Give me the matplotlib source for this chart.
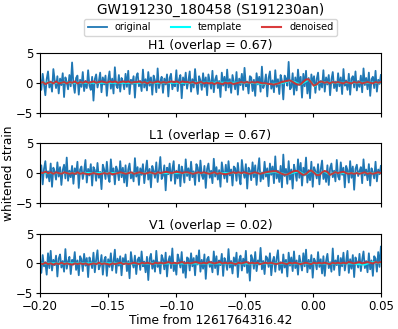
import numpy as np
import matplotlib
matplotlib.use("Agg")
import matplotlib.pyplot as plt

title = "GW191230_180458 (S191230an)"
detectors = ["H1", "L1", "V1"]
overlaps = [0.67, 0.67, 0.02]
xlabel = "Time from 1261764316.42"
ylabel = "whitened strain"
t_start, t_end = -0.20, 0.05

h1_original = [
0.8,-1.2,1.5,-0.3,-2.1,0.6,1.9,-0.8,0.2,-1.5,2.3,0.4,-0.9,1.1,-1.8,0.7,
-0.4,1.6,-2.4,0.9,0.1,-1.1,1.3,-0.6,3.4,-0.2,-1.7,0.8,1.2,-2.0,0.5,-0.7,
1.8,-1.4,0.3,-0.9,2.1,-0.5,-1.2,1.0,-3.0,0.6,1.4,-0.8,0.2,1.7,-1.6,0.9,
-0.3,1.2,-2.2,0.4,1.9,-1.0,0.7,-1.8,2.6,-0.4,-0.9,1.3,-1.5,0.8,0.2,-1.1,
1.5,-0.7,2.0,-1.9,0.5,-0.2,1.1,-2.5,0.9,1.6,-0.6,0.3,-1.4,2.2,-0.8,0.6,
-1.3,1.8,-0.5,0.9,-2.0,1.2,0.4,-1.6,2.4,-0.9,0.1,1.0,-1.7,0.7,-0.3,1.4,
-2.3,0.8,1.5,-1.1,0.2,-0.6,2.1,-1.4,0.5,1.3,-2.6,0.9,-0.4,1.7,-1.0,0.3,
1.9,-1.5,0.6,-0.8,2.3,-0.2,-1.9,1.1,0.4,-1.2,1.6,-0.7,0.9,-2.1,1.4,0.2,
-1.0,2.0,-1.6,0.5,1.2,-0.9,0.3,-2.4,1.7,-0.5,1.0,-1.3,2.2,-0.8,0.6,-1.7,
1.3,0.1,-1.1,1.8,-2.0,0.7,-0.4,1.5,-1.2,2.5,-0.6,0.2,-1.8,1.1,0.9,-1.4,
0.5,-2.2,1.6,-0.3,1.0,-1.5,2.7,-0.9,-0.2,1.4,-2.3,0.8,1.9,-1.0,0.4,-1.6,
2.1,-0.7,0.6,-1.9,1.3,0.3,-2.8,1.2,0.7,-0.5,3.5,-1.1,-0.8,1.6,-2.0,0.9,
-1.3,2.2,-0.4,1.0,-2.5,1.5,-0.6,2.0,-1.8,0.8,-2.6,1.4,-0.2,1.1,-1.7,0.6,
1.7,-1.2,0.3,-0.8,2.1,-1.5,0.9,-0.3,1.3,-2.1,0.5,1.8,-0.9,0.2,-1.4,1.6,
-0.6,0.9,-1.9,2.3,-0.5,0.4,-1.2,1.5,-2.0,0.7,1.1,-0.8,1.9,-1.3,0.3,-0.7,
1.2,-1.6,2.4,-0.4,0.8,-1.1,1.7,-2.2,0.6,1.0,-0.9,2.0,-1.5,0.5,-0.2,1.3]

l1_original = [
-0.5,1.3,-1.9,0.7,2.0,-0.8,0.3,-1.4,1.6,-2.3,0.9,0.2,-1.1,1.8,-0.6,1.0,
-2.0,0.5,1.4,-0.9,2.6,-1.3,0.4,-0.7,1.2,-1.8,0.8,-0.2,1.9,-2.5,0.6,1.1,
-1.0,0.3,2.2,-1.6,0.7,-0.4,1.5,-2.1,1.0,0.5,-1.3,1.7,-0.8,0.2,-2.7,1.4,
0.6,-1.0,1.9,-0.5,-1.5,2.3,-0.3,0.8,-1.9,1.1,0.4,-1.2,2.0,-0.7,0.9,-1.6,
1.3,-2.2,0.6,1.6,-0.9,0.1,-1.4,2.5,-0.6,1.0,-2.0,0.8,-0.3,1.5,-1.7,0.4,
2.1,-1.1,0.7,-2.4,1.2,0.3,-0.8,1.8,-1.5,0.5,2.7,-1.0,-0.4,1.3,-2.9,0.9,
-0.2,1.6,-1.3,0.6,2.0,-1.8,0.4,-0.9,1.4,-2.2,1.1,0.2,-1.6,2.3,-0.5,0.8,
-1.2,1.9,-0.7,0.3,-2.0,1.5,0.9,-1.4,2.1,-0.3,-1.0,1.2,-2.5,0.7,1.6,-0.8,
0.4,-1.7,2.4,-0.6,1.0,-1.1,0.5,-2.3,1.8,0.2,-0.9,1.4,-1.5,2.0,-0.4,0.6,
-2.1,1.1,0.8,-1.3,1.7,-0.5,-1.9,2.2,0.3,-0.8,1.5,-2.6,0.9,0.4,-1.2,1.8,
-0.7,1.3,-2.0,0.5,2.5,-1.4,0.1,-1.0,1.9,-0.6,0.8,-2.2,1.6,-0.3,1.1,-1.7,
2.8,-0.9,0.4,-1.5,1.2,-2.4,3.1,-0.5,0.7,-1.8,2.0,-1.1,0.6,-2.6,1.4,0.2,
-1.3,2.3,-0.8,1.7,-2.1,0.9,-0.4,2.6,-1.6,0.5,-1.2,1.9,-2.3,1.0,0.3,-0.9,
1.5,-1.9,0.6,2.1,-1.0,0.2,-1.5,1.3,-2.0,0.8,1.6,-0.7,0.4,-1.4,2.2,-0.6,
-1.1,1.8,-0.3,0.9,-2.4,1.2,0.5,-1.6,2.0,-0.8,1.1,-2.8,0.7,1.4,-0.5,0.3,
1.0,-1.7,2.3,-0.4,0.6,-1.2,1.5,-2.1,0.8,0.1,-0.9,1.9,-1.4,0.6,-0.2,1.2]

v1_original = [
0.9,-1.6,1.4,-0.5,0.2,-1.9,1.7,-0.8,2.1,-1.2,0.6,-0.3,1.3,-2.2,0.8,1.5,
-0.7,0.4,-1.4,2.4,-0.9,0.3,1.1,-1.8,0.6,-0.2,1.9,-1.1,0.5,-2.0,1.2,0.7,
-1.3,1.6,-0.4,0.9,-2.3,1.0,0.2,-0.8,1.8,-1.5,0.6,2.2,-1.0,-0.3,1.4,-1.9,
0.5,1.1,-2.1,0.7,-0.6,1.7,-1.2,0.3,2.3,-1.6,0.8,-0.4,1.2,-2.0,0.9,-0.1,
1.5,-1.3,0.4,-2.5,1.9,0.2,-0.7,1.3,-1.8,0.6,1.0,-1.1,2.0,-0.5,0.3,-1.5,
1.1,-2.8,0.8,1.6,-0.9,0.5,-1.4,2.1,-0.6,0.2,-1.7,1.4,0.7,-1.0,1.8,-2.2,
0.4,1.2,-0.8,2.5,-1.3,0.1,-1.9,1.5,0.6,-0.7,1.9,-1.6,0.3,-2.4,1.0,0.8,
-1.2,1.7,-0.5,0.9,-2.0,1.3,-0.2,2.2,-1.4,0.6,-0.9,1.5,-2.6,0.7,1.1,-0.6,
0.3,-1.5,2.0,-0.8,1.2,-1.9,0.5,-0.3,1.6,-2.1,0.9,0.2,-1.1,2.4,-0.7,0.4,
-1.7,1.0,-0.4,1.8,-2.3,0.6,1.3,-1.2,0.8,-0.5,2.1,-1.6,0.2,-2.9,1.4,0.7,
-0.9,1.9,-1.3,0.5,-0.2,2.6,-1.0,0.4,-1.8,1.2,0.9,-0.6,1.7,-2.0,0.3,1.1,
-1.4,0.8,2.2,-1.1,0.2,-1.6,1.5,-0.7,0.6,-2.2,1.8,-0.4,1.0,-1.3,2.0,-0.8,
0.5,-1.9,1.3,0.1,-1.2,1.7,-0.5,2.3,-1.5,0.6,-0.9,1.4,-2.4,0.8,0.3,-1.0,
1.9,-0.6,0.7,-1.7,1.2,-2.1,0.4,1.6,-0.8,0.2,-1.4,2.5,-1.1,0.5,-0.3,1.3,
-2.0,0.9,-0.5,1.8,-1.2,0.3,2.1,-1.6,0.7,-0.9,1.4,-2.3,1.0,0.2,-0.7,1.6,
-1.3,0.6,2.0,-0.8,0.4,-1.5,1.7,-1.0,0.5,-2.1,1.2,0.8,-1.4,1.9,-0.6,2.8]

h1_denoised = [
-0.1,0.1,-0.2,0.0,0.1,-0.1,0.2,-0.1,0.0,0.1,-0.1,0.1,0.0,0.2,-0.1,0.1,
0.0,0.2,0.0,0.1,0.2,0.0,0.1,0.2,0.1,0.0,0.2,0.1,0.2,0.0,0.1,0.2,
0.1,0.2,0.0,0.1,0.1,0.2,0.0,0.1,-0.1,0.1,0.0,0.1,0.2,0.0,0.1,0.0,
0.1,0.2,0.1,0.2,0.0,0.2,0.1,0.1,0.0,0.1,-0.1,0.0,0.1,-0.1,0.0,-0.1,
0.0,-0.2,0.0,-0.1,-0.2,0.0,-0.1,0.0,-0.2,-0.1,0.0,0.1,0.0,0.1,0.0,0.1,
0.0,0.1,0.0,-0.1,-0.1,-0.2,-0.2,-0.3,-0.2,-0.1,0.1,0.2,0.3,0.4,0.2,-0.1,
-0.3,-0.3,0.1,0.5,0.6,0.1,-0.5,-0.3,0.1,0.2,0.0,0.1,-0.1,0.1,0.0,0.1,
0.0,-0.1,0.1,0.0,-0.1,0.1,0.0,0.1,-0.1,0.0,0.1,0.0,-0.1,0.1,0.0,0.1]

l1_denoised = [
0.1,0.0,0.2,0.0,0.1,-0.1,0.1,0.0,-0.1,0.1,0.0,-0.1,0.0,-0.1,0.1,-0.1,
0.0,-0.1,-0.2,-0.1,0.0,-0.1,-0.2,-0.1,0.0,-0.1,0.0,-0.2,-0.1,0.0,0.1,0.0,
-0.1,0.0,0.1,-0.1,0.0,0.1,0.0,-0.1,0.0,0.1,0.0,-0.1,0.1,0.0,0.1,0.2,
0.1,0.0,0.1,0.2,0.1,0.0,0.1,0.1,0.0,-0.1,0.0,0.1,0.0,0.1,0.0,-0.1,
0.0,0.1,-0.1,0.0,-0.1,-0.2,-0.1,0.0,0.1,0.0,0.1,0.0,0.1,0.0,-0.1,0.0,
0.1,0.0,-0.1,0.0,0.1,0.2,0.25,0.3,0.3,0.1,-0.1,-0.25,-0.25,-0.05,0.2,0.35,
0.35,0.0,-0.3,-0.2,0.2,0.45,0.1,-0.3,-0.35,0.1,0.35,0.2,-0.3,-0.1,0.15,0.0,
0.1,0.2,0.0,-0.1,0.0,-0.1,0.0,-0.1,0.0,0.1,-0.1,0.0,-0.1,0.0,0.1,0.0]

v1_denoised = [
0.0,-0.1,0.1,-0.1,0.0,-0.2,0.0,-0.1,0.1,-0.1,0.0,-0.1,-0.2,0.0,-0.1,0.0,
-0.1,0.0,-0.2,-0.1,0.0,-0.1,0.1,-0.1,0.0,-0.1,-0.2,0.0,-0.1,0.0,0.1,-0.1,
0.0,-0.1,0.0,0.1,0.0,-0.1,0.1,0.0,0.1,0.0,-0.1,0.1,0.0,0.1,0.0,0.1,
0.2,0.0,0.1,0.0,0.1,0.2,0.0,0.1,0.0,0.1,0.2,0.1,0.0,0.1,0.0,0.2,
0.1,0.0,0.1,0.2,0.0,0.1,0.0,0.1,0.0,-0.1,0.1,0.0,0.1,0.2,0.0,0.1,
0.0,0.1,-0.1,0.0,0.1,0.0,0.1,0.0,-0.1,0.0,0.1,0.0,-0.1,0.1,0.0,0.1,
0.0,-0.1,0.0,0.1,0.0,-0.1,0.1,0.0,0.1,0.0,0.1,0.0,-0.1,0.1,0.0,0.1,
0.0,0.1,0.0,0.2,0.1,0.0,0.1,0.2,0.0,0.1,0.2,0.1,0.0,0.2,0.1,0.2]

h1_template_t = [-0.2, -0.045, -0.04, -0.035, -0.03, -0.025, -0.02, -0.0167, -0.013,
                 -0.0094, -0.006, -0.0028, -0.0006, 0.0016, 0.004, 0.0065, 0.009, 0.012, 0.05]
h1_template = [0.0, 0.0, -0.1, -0.2, -0.2, -0.15, 0.1, 0.35, 0.1,
               -0.35, 0.1, 0.55, 0.0, -0.6, -0.1, 0.2, 0.05, 0.0, 0.0]
l1_template_t = [-0.2, -0.035, -0.0277, -0.0192, -0.0106, -0.0057, -0.0008, 0.004,
                 0.0082, 0.0126, 0.0163, 0.02, 0.05]
l1_template = [0.0, 0.0, 0.2, -0.25, 0.3, -0.3, 0.4, -0.35, 0.3, -0.25, 0.1, 0.0, 0.0]
v1_template_t = [-0.2, 0.03, 0.034, 0.038, 0.041, 0.044, 0.047, 0.05]
v1_template = [0.0, 0.0, -0.15, -0.2, 0.05, 0.2, 0.1, 0.05]

originals = [h1_original, l1_original, v1_original]
denoised = [h1_denoised, l1_denoised, v1_denoised]
templates_t = [h1_template_t, l1_template_t, v1_template_t]
templates = [h1_template, l1_template, v1_template]

fig, axes = plt.subplots(3, 1, figsize=(3.98, 3.29), dpi=100, sharex=True)
fig.subplots_adjust(left=0.1005, right=0.957, top=0.839, bottom=0.109, hspace=0.517)

for i, ax in enumerate(axes):
    t_o = np.linspace(t_start, t_end, len(originals[i]))
    t_d = np.linspace(t_start, t_end, len(denoised[i]))
    ax.plot(t_o, originals[i], color="#1f77b4", lw=1.3, label="original")
    ax.plot(templates_t[i], templates[i], color="cyan", lw=1.5, label="template")
    ax.plot(t_d, denoised[i], color="#d62728", lw=1.5, label="denoised", alpha=0.9)
    ax.set_xlim(t_start, t_end)
    ax.set_ylim(-5, 5)
    ax.set_yticks([-5, 0, 5])
    ax.set_title(f"{detectors[i]} (overlap = {overlaps[i]:.2f})", fontsize=9, pad=3)
    ax.tick_params(labelsize=8.5, length=3, pad=2)

axes[-1].set_xticks([-0.20, -0.15, -0.10, -0.05, 0.00, 0.05])
axes[-1].set_xticklabels(["\u22120.20", "\u22120.15", "\u22120.10", "\u22120.05", "0.00", "0.05"])
axes[-1].set_xlabel(xlabel, fontsize=8.8, labelpad=1)
axes[1].set_ylabel(ylabel, fontsize=8.8)
axes[1].yaxis.set_label_coords(-0.072, 0.5)

fig.suptitle(title, fontsize=9.8, x=0.529, y=0.99)
handles, labels = axes[0].get_legend_handles_labels()
fig.legend(handles, labels, loc="center", bbox_to_anchor=(0.529, 0.917), ncol=3,
           fontsize=7, frameon=True, handlelength=2.0, borderpad=0.35,
           columnspacing=2.0, handletextpad=0.8)

fig.savefig("out.png", dpi=100)
